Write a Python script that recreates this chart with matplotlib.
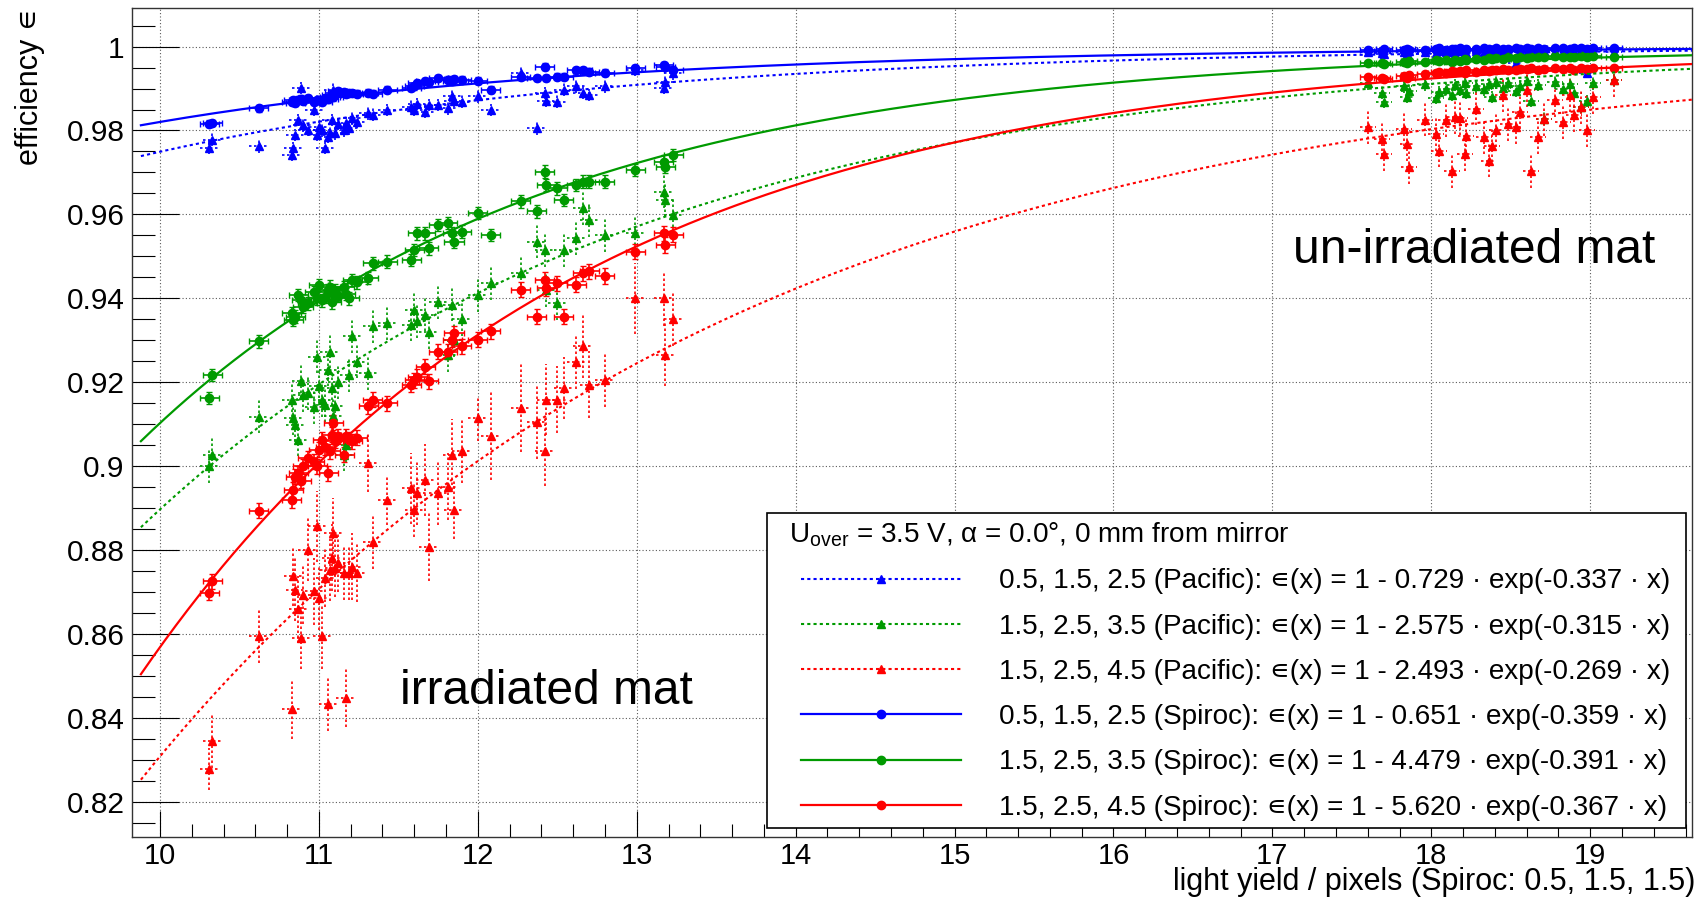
import numpy as np
import matplotlib.pyplot as plt
from matplotlib.lines import Line2D
from matplotlib.legend_handler import HandlerLine2D
from matplotlib.ticker import MultipleLocator, FuncFormatter

# light yield of the measurement points (same x for all six series)
x_irr = [10.31, 10.33, 10.62, 10.83, 10.84, 10.85, 10.87, 10.89, 10.90, 10.93,
         10.97, 10.99, 11.00, 11.02, 11.04, 11.06, 11.07, 11.08, 11.09, 11.10,
         11.12, 11.16, 11.17, 11.19, 11.21, 11.24, 11.31, 11.34, 11.43, 11.58,
         11.60, 11.62, 11.67, 11.69, 11.75, 11.81, 11.84, 11.85, 11.90, 12.00,
         12.08, 12.27, 12.37, 12.42, 12.43, 12.50, 12.54, 12.62, 12.66, 12.70,
         12.80, 12.99, 13.17, 13.18, 13.23]
x_unirr = [17.60, 17.69, 17.70, 17.83, 17.85, 17.86, 17.96, 18.03, 18.05, 18.09,
           18.13, 18.15, 18.18, 18.21, 18.22, 18.28, 18.33, 18.36, 18.38, 18.41,
           18.45, 18.48, 18.53, 18.56, 18.60, 18.63, 18.67, 18.71, 18.78, 18.83,
           18.87, 18.90, 18.94, 18.98, 19.02, 19.15]

# efficiencies, irradiated mat
spi_blue_irr = [0.9816, 0.9818, 0.9853, 0.9869, 0.9872, 0.9866, 0.9873, 0.9876, 0.9870, 0.9877,
                0.9869, 0.9872, 0.9873, 0.9868, 0.9877, 0.9874, 0.9880, 0.9885, 0.9879, 0.9890,
                0.9893, 0.9891, 0.9887, 0.9889, 0.9889, 0.9888, 0.9890, 0.9888, 0.9897, 0.9901,
                0.9905, 0.9913, 0.9917, 0.9915, 0.9925, 0.9921, 0.9917, 0.9923, 0.9921, 0.9919,
                0.9897, 0.9928, 0.9925, 0.9952, 0.9925, 0.9928, 0.9928, 0.9944, 0.9944, 0.9940,
                0.9938, 0.9948, 0.9956, 0.9952, 0.9944]
pac_blue_irr = [0.9758, 0.9778, 0.9762, 0.9742, 0.9758, 0.9789, 0.9825, 0.9901, 0.9812, 0.9801,
                0.9849, 0.9790, 0.9809, 0.9800, 0.9758, 0.9785, 0.9793, 0.9825, 0.9897, 0.9793,
                0.9815, 0.9800, 0.9818, 0.9805, 0.9829, 0.9820, 0.9841, 0.9838, 0.9849, 0.9857,
                0.9850, 0.9863, 0.9845, 0.9861, 0.9861, 0.9853, 0.9881, 0.9870, 0.9869, 0.9881,
                0.9849, 0.9936, 0.9805, 0.9889, 0.9870, 0.9869, 0.9897, 0.9905, 0.9890, 0.9885,
                0.9905, 0.9944, 0.9901, 0.9915, 0.9936]
spi_green_irr = [0.9162, 0.9217, 0.9297, 0.9364, 0.9348, 0.9356, 0.9408, 0.9396, 0.9380, 0.9388,
                 0.9415, 0.9400, 0.9432, 0.9395, 0.9404, 0.9420, 0.9428, 0.9390, 0.9412, 0.9418,
                 0.9405, 0.9426, 0.9410, 0.9400, 0.9444, 0.9438, 0.9448, 0.9483, 0.9487, 0.9491,
                 0.9515, 0.9555, 0.9555, 0.9519, 0.9575, 0.9579, 0.9555, 0.9535, 0.9559, 0.9603,
                 0.9551, 0.9631, 0.9607, 0.9702, 0.9670, 0.9662, 0.9634, 0.9670, 0.9678, 0.9678,
                 0.9678, 0.9706, 0.9726, 0.9714, 0.9742]
pac_green_irr = [0.8999, 0.9027, 0.9118, 0.9158, 0.9114, 0.9098, 0.9063, 0.9202, 0.9170, 0.9174,
                 0.9140, 0.9261, 0.9190, 0.9158, 0.9146, 0.9230, 0.9273, 0.9186, 0.9120, 0.9142,
                 0.9200, 0.9027, 0.9050, 0.9217, 0.9309, 0.9249, 0.9221, 0.9333, 0.9341, 0.9337,
                 0.9373, 0.9345, 0.9361, 0.9320, 0.9390, 0.9265, 0.9385, 0.9300, 0.9350, 0.9408,
                 0.9436, 0.9460, 0.9535, 0.9515, 0.9420, 0.9388, 0.9515, 0.9543, 0.9615, 0.9587,
                 0.9551, 0.9555, 0.9654, 0.9634, 0.9599]
spi_red_irr = [0.8698, 0.8725, 0.8894, 0.8919, 0.8943, 0.8975, 0.8983, 0.8965, 0.8999, 0.9019,
               0.9010, 0.8999, 0.9039, 0.9063, 0.9045, 0.8983, 0.9035, 0.9075, 0.9103, 0.9060,
               0.9071, 0.9027, 0.9071, 0.9063, 0.9059, 0.9067, 0.9142, 0.9158, 0.9150, 0.9194,
               0.9205, 0.9213, 0.9237, 0.9202, 0.9273, 0.9273, 0.9301, 0.9317, 0.9285, 0.9301,
               0.9321, 0.9420, 0.9356, 0.9444, 0.9424, 0.9436, 0.9356, 0.9432, 0.9460, 0.9464,
               0.9453, 0.9511, 0.9555, 0.9527, 0.9551]
pac_red_irr = [0.8277, 0.8344, 0.8594, 0.8420, 0.8737, 0.8705, 0.8658, 0.8590, 0.8693, 0.8800,
               0.8701, 0.8856, 0.8686, 0.8594, 0.8733, 0.8432, 0.8753, 0.8781, 0.8840, 0.8757,
               0.8770, 0.8745, 0.8448, 0.8745, 0.8760, 0.8745, 0.9007, 0.8820, 0.8919, 0.8947,
               0.8896, 0.8935, 0.8967, 0.8808, 0.8935, 0.8951, 0.9027, 0.8896, 0.9035, 0.9114,
               0.9071, 0.9138, 0.9106, 0.9035, 0.9158, 0.9158, 0.9186, 0.9249, 0.9285, 0.9194,
               0.9206, 0.9400, 0.9400, 0.9265, 0.9350]
pac_red_irr_err = [0.0050, 0.0065, 0.0063, 0.0070, 0.0070, 0.0075, 0.0080, 0.0075, 0.0070, 0.0075,
                   0.0080, 0.0085, 0.0077, 0.0077, 0.0070, 0.0063, 0.0075, 0.0080, 0.0085, 0.0070,
                   0.0070, 0.0065, 0.0070, 0.0065, 0.0080, 0.0070, 0.0070, 0.0065, 0.0060, 0.0085,
                   0.0065, 0.0075, 0.0085, 0.0083, 0.0075, 0.0080, 0.0085, 0.0070, 0.0075, 0.0054,
                   0.0105, 0.0105, 0.0090, 0.0083, 0.0085, 0.0080, 0.0075, 0.0065, 0.0075, 0.0080,
                   0.0065, 0.0085, 0.0065, 0.0075, 0.0065]

# efficiencies, un-irradiated mat
spi_blue_unirr = [0.9993, 0.9990, 0.9994, 0.9992, 0.9995, 0.9991, 0.9993, 0.9994, 0.9996, 0.9993,
                  0.9995, 0.9994, 0.9996, 0.9993, 0.9995, 0.9994, 0.9996, 0.9995, 0.9993, 0.9996,
                  0.9995, 0.9994, 0.9996, 0.9995, 0.9997, 0.9995, 0.9996, 0.9994, 0.9997, 0.9996,
                  0.9995, 0.9997, 0.9996, 0.9995, 0.9997, 0.9996]
pac_blue_unirr = [0.9988, 0.9985, 0.9982, 0.9986, 0.9984, 0.9989, 0.9987, 0.9985, 0.9990, 0.9986,
                  0.9988, 0.9983, 0.9989, 0.9987, 0.9985, 0.9990, 0.9986, 0.9988, 0.9991, 0.9987,
                  0.9989, 0.9986, 0.9960, 0.9990, 0.9988, 0.9991, 0.9987, 0.9989, 0.9990, 0.9988,
                  0.9991, 0.9989, 0.9992, 0.9936, 0.9990, 0.9988]
spi_green_unirr = [0.9960, 0.9962, 0.9958, 0.9964, 0.9960, 0.9966, 0.9963, 0.9968, 0.9965, 0.9967,
                   0.9964, 0.9969, 0.9966, 0.9970, 0.9968, 0.9971, 0.9969, 0.9972, 0.9970, 0.9973,
                   0.9971, 0.9974, 0.9972, 0.9975, 0.9973, 0.9976, 0.9974, 0.9975, 0.9977, 0.9974,
                   0.9976, 0.9975, 0.9977, 0.9976, 0.9978, 0.9975]
pac_green_unirr = [0.9912, 0.9890, 0.9868, 0.9905, 0.9880, 0.9895, 0.9910, 0.9878, 0.9892, 0.9900,
                   0.9885, 0.9908, 0.9896, 0.9912, 0.9890, 0.9905, 0.9898, 0.9910, 0.9880, 0.9915,
                   0.9902, 0.9912, 0.9895, 0.9905, 0.9918, 0.9870, 0.9908, 0.9828, 0.9915, 0.9900,
                   0.9910, 0.9890, 0.9856, 0.9870, 0.9912, 0.9920]
spi_red_unirr = [0.9928, 0.9924, 0.9922, 0.9930, 0.9926, 0.9932, 0.9935, 0.9938, 0.9940, 0.9936,
                 0.9942, 0.9939, 0.9941, 0.9937, 0.9943, 0.9940, 0.9944, 0.9942, 0.9945, 0.9943,
                 0.9946, 0.9944, 0.9945, 0.9947, 0.9946, 0.9948, 0.9945, 0.9947, 0.9948, 0.9946,
                 0.9949, 0.9944, 0.9948, 0.9947, 0.9949, 0.9950]
pac_red_unirr = [0.9808, 0.9780, 0.9744, 0.9804, 0.9768, 0.9712, 0.9826, 0.9792, 0.9752, 0.9824,
                 0.9704, 0.9832, 0.9830, 0.9744, 0.9788, 0.9852, 0.9784, 0.9728, 0.9764, 0.9800,
                 0.9884, 0.9816, 0.9808, 0.9844, 0.9896, 0.9704, 0.9784, 0.9828, 0.9872, 0.9820,
                 0.9884, 0.9836, 0.9856, 0.9800, 0.9880, 0.9920]

# typical uncertainties (blue, green, red)
xerr_irr, xerr_unirr = 0.06, 0.05
spi_err_irr = [0.0008, 0.0015, 0.0018]
pac_err_irr = [0.0015, 0.0040, None]
spi_err_unirr = [0.0003, 0.0004, 0.0005]
pac_err_unirr = [0.0006, 0.0015, 0.0040]

# fit results: eff(x) = 1 - A * exp(-b * x)
thresholds = ['0.5, 1.5, 2.5', '1.5, 2.5, 3.5', '1.5, 2.5, 4.5']
pac_A = [0.729, 2.575, 2.493]
pac_b = [0.337, 0.315, 0.269]
spi_A = [0.651, 4.479, 5.620]
spi_b = [0.359, 0.391, 0.367]
fit_range = [9.88, 19.64]

colors = ['#0000ff', '#009a00', '#ff0000']
dotted = (0, (1.5, 1.5))
eps = '\u220a'

plt.rcParams['font.family'] = ['Liberation Sans', 'DejaVu Sans']
plt.rcParams['mathtext.fontset'] = 'custom'
plt.rcParams['mathtext.rm'] = 'Liberation Sans'
plt.rcParams['mathtext.it'] = 'Liberation Sans:italic'

fig = plt.figure(figsize=(17.03, 9.08), dpi=100)
ax = fig.add_axes([0.0777, 0.0779, 0.9158, 0.9133])


def draw_points(x, y, xerr, yerr, color, pacific):
    eb = ax.errorbar(x, y, xerr=xerr, yerr=yerr, fmt='none', ecolor=color,
                     elinewidth=1.2, capsize=0 if pacific else 2.5, zorder=3)
    if pacific:
        for lc in eb[2]:
            lc.set_linestyle(dotted)
    ax.plot(x, y, ls='none', marker='^' if pacific else 'o',
            ms=5.5 if pacific else 6, color=color, zorder=4)


pac_irr = [pac_blue_irr, pac_green_irr, pac_red_irr]
spi_irr = [spi_blue_irr, spi_green_irr, spi_red_irr]
pac_unirr = [pac_blue_unirr, pac_green_unirr, pac_red_unirr]
spi_unirr = [spi_blue_unirr, spi_green_unirr, spi_red_unirr]

for i, c in enumerate(colors):
    err = pac_err_irr[i] if pac_err_irr[i] is not None else pac_red_irr_err
    draw_points(x_irr, pac_irr[i], xerr_irr, err, c, True)
    draw_points(x_unirr, pac_unirr[i], xerr_unirr, pac_err_unirr[i], c, True)
for i, c in enumerate(colors):
    draw_points(x_irr, spi_irr[i], xerr_irr, spi_err_irr[i], c, False)
    draw_points(x_unirr, spi_unirr[i], xerr_unirr, spi_err_unirr[i], c, False)

xs = np.linspace(fit_range[0], fit_range[1], 400)
handles = []
for i, c in enumerate(colors):
    ax.plot(xs, 1 - pac_A[i] * np.exp(-pac_b[i] * xs), color=c, lw=1.5, ls=dotted, zorder=5)
    label = f'{thresholds[i]} (Pacific): {eps}(x) = 1 - {pac_A[i]:.3f} \u00b7 exp(-{pac_b[i]:.3f} \u00b7 x)'
    handles.append(Line2D([], [], color=c, lw=1.5, ls=dotted, marker='^', ms=5.5, label=label))
for i, c in enumerate(colors):
    ax.plot(xs, 1 - spi_A[i] * np.exp(-spi_b[i] * xs), color=c, lw=1.6, zorder=5)
    label = f'{thresholds[i]} (Spiroc): {eps}(x) = 1 - {spi_A[i]:.3f} \u00b7 exp(-{spi_b[i]:.3f} \u00b7 x)'
    handles.append(Line2D([], [], color=c, lw=1.6, marker='o', ms=6, label=label))

ax.set_xlim(9.826, 19.64)
ax.set_ylim(0.8115, 1.0092)
ax.xaxis.set_major_locator(MultipleLocator(1))
ax.xaxis.set_minor_locator(MultipleLocator(0.2))
ax.yaxis.set_major_locator(MultipleLocator(0.02))
ax.yaxis.set_minor_locator(MultipleLocator(0.005))
fmt = FuncFormatter(lambda v, p: f'{v:g}')
ax.xaxis.set_major_formatter(fmt)
ax.yaxis.set_major_formatter(fmt)
ax.tick_params(which='both', direction='in', top=False, right=False, width=0.8)
ax.tick_params(axis='y', which='major', length=34, pad=5.5, labelsize=21.5)
ax.tick_params(axis='y', which='minor', length=16.5)
ax.tick_params(axis='x', which='major', length=18.5, pad=3.5, labelsize=21)
ax.tick_params(axis='x', which='minor', length=9.6)
ax.grid(True, which='major', color='0.35', ls=(0, (1, 2)), lw=0.8)
for s in ax.spines.values():
    s.set_linewidth(1.0)
    s.set_color('#333333')

ax.set_ylabel('efficiency ' + eps, fontsize=22, loc='top')
ax.yaxis.set_label_coords(-0.056, 1.0)
ax.set_xlabel('light yield / pixels (Spiroc: 0.5, 1.5, 1.5)', fontsize=22, loc='right')
ax.xaxis.set_label_coords(1.002, -0.036)

ax.text(17.13, 0.9484, 'un-irradiated mat', fontsize=34.5, va='baseline', zorder=6)
ax.text(11.51, 0.8433, 'irradiated mat', fontsize=34.5, va='baseline', zorder=6)

header = r'  U$_{\mathrm{over}}$ = 3.5 V, α = 0.0°, 0 mm from mirror'
leg = ax.legend(handles=handles, title=header, loc='lower left',
                bbox_to_anchor=(0.407, 0.0112, 0.589, 0.3835), mode='expand',
                borderaxespad=0, alignment='left', fontsize=20.1, title_fontsize=20.1,
                handler_map={Line2D: HandlerLine2D(numpoints=1, xpad=0.97)},
                handlelength=6.7, handletextpad=1.33, borderpad=0.26,
                labelspacing=0.69, fancybox=False, edgecolor='black', framealpha=1)
leg.get_frame().set_linewidth(1.2)
leg.set_zorder(10)

fig.savefig('out.png', dpi=100)
